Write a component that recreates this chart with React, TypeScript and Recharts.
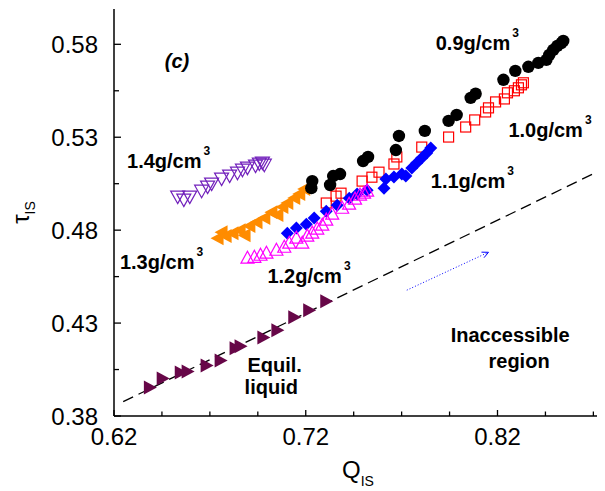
import { ReferenceDot, ReferenceLine, Scatter, ScatterChart, XAxis, YAxis } from "recharts";

type Pt = [number, number];

// tau_IS vs Q_IS, one array per density
const RHO_09: Pt[] = [
  [0.7229, 0.5026], [0.7234, 0.5064], [0.7327, 0.5043], [0.7343, 0.5091], [0.7379, 0.5102],
  [0.7499, 0.5172], [0.7525, 0.5194], [0.767, 0.5231], [0.7686, 0.5307], [0.7821, 0.5334],
  [0.7945, 0.5388], [0.7987, 0.542], [0.806, 0.5512], [0.8086, 0.5534], [0.8231, 0.5609],
  [0.8293, 0.5657], [0.8361, 0.5679], [0.8413, 0.57], [0.8455, 0.5716], [0.847, 0.5743],
  [0.8491, 0.577], [0.8512, 0.5791], [0.8533, 0.5807], [0.8543, 0.5818],
];
const RHO_10: Pt[] = [
  [0.7307, 0.4946], [0.7358, 0.4983], [0.7384, 0.4999], [0.7494, 0.5064], [0.7545, 0.5085],
  [0.7582, 0.5112], [0.766, 0.5156], [0.7675, 0.5194], [0.7805, 0.5247], [0.7945, 0.5301],
  [0.8034, 0.5355], [0.8081, 0.5393], [0.8138, 0.5436], [0.8153, 0.5458], [0.819, 0.549],
  [0.8236, 0.5506], [0.8252, 0.5539], [0.8288, 0.555], [0.8309, 0.5566], [0.8325, 0.5582],
  [0.8335, 0.5593],
];
const RHO_11: Pt[] = [
  [0.7104, 0.4784], [0.7151, 0.4811], [0.7203, 0.4832], [0.7244, 0.4865], [0.7307, 0.4902],
  [0.7364, 0.4934], [0.7427, 0.4972], [0.7468, 0.4994], [0.752, 0.5015], [0.7608, 0.5026],
  [0.7618, 0.5075], [0.766, 0.5086], [0.7701, 0.5102], [0.7722, 0.5091], [0.7753, 0.5134],
  [0.7779, 0.5161], [0.7805, 0.5188], [0.7831, 0.5215], [0.7852, 0.5242],
];
const RHO_12: Pt[] = [
  [0.6896, 0.4649], [0.6932, 0.4654], [0.6964, 0.4665], [0.6995, 0.4676], [0.7047, 0.4692],
  [0.7088, 0.4708], [0.7114, 0.473], [0.7151, 0.4757], [0.7182, 0.473], [0.7208, 0.4768],
  [0.7234, 0.4784], [0.726, 0.4806], [0.7286, 0.4827], [0.7307, 0.4854], [0.7338, 0.4886],
  [0.739, 0.4918], [0.7426, 0.494], [0.7457, 0.4967], [0.7483, 0.4989], [0.7504, 0.4999],
  [0.752, 0.501],
];
const RHO_13: Pt[] = [
  [0.674, 0.4757], [0.6761, 0.4789], [0.6782, 0.4768], [0.6818, 0.4784], [0.6855, 0.48],
  [0.6881, 0.4773], [0.6906, 0.4822], [0.6943, 0.4843], [0.6984, 0.4865], [0.7021, 0.4897],
  [0.7052, 0.4881], [0.7078, 0.4924], [0.7104, 0.4946], [0.714, 0.4973], [0.7166, 0.4994],
  [0.7192, 0.5021],
];
const RHO_14: Pt[] = [
  [0.6532, 0.4983], [0.6564, 0.4967], [0.6595, 0.4983], [0.6657, 0.5015], [0.6688, 0.5037],
  [0.6709, 0.5053], [0.6761, 0.508], [0.6803, 0.5096], [0.6844, 0.5112], [0.687, 0.5128],
  [0.6896, 0.5139], [0.6938, 0.515], [0.6958, 0.5161], [0.6974, 0.5166], [0.6984, 0.5155],
];
const EQUIL: Pt[] = [
  [0.6387, 0.3954], [0.6454, 0.4002], [0.6548, 0.4034], [0.6584, 0.404], [0.6683, 0.4072],
  [0.6756, 0.4099], [0.6834, 0.4164], [0.686, 0.4175], [0.6979, 0.4223], [0.7052, 0.4261],
  [0.714, 0.4331], [0.7218, 0.4369], [0.7307, 0.4418],
];

const BOUNDARY: Pt[] = [[0.6248, 0.3877], [0.8745, 0.5126]];
const ARROW: Pt[] = [[0.7727, 0.4477], [0.8153, 0.4681]];

const X_DOMAIN: [number, number] = [0.62, 0.8745];
const Y_DOMAIN: [number, number] = [0.38, 0.599];
const X_TICKS = [0.62, 0.645, 0.67, 0.695, 0.72, 0.745, 0.77, 0.795, 0.82, 0.845, 0.87];
const X_LABELS = [0.62, 0.72, 0.82];
const Y_TICKS = [0.38, 0.405, 0.43, 0.455, 0.48, 0.505, 0.53, 0.555, 0.58];
const Y_LABELS = [0.38, 0.43, 0.48, 0.53, 0.58];

interface Note { text: string; sup?: string; x: number; y: number; italic?: boolean }
const NOTES: Note[] = [
  { text: "(c)", x: 0.6465, y: 0.5673, italic: true },
  { text: "0.9g/cm", sup: "3", x: 0.7878, y: 0.577 },
  { text: "1.0g/cm", sup: "3", x: 0.8257, y: 0.5301 },
  { text: "1.1g/cm", sup: "3", x: 0.7852, y: 0.5026 },
  { text: "1.2g/cm", sup: "3", x: 0.7, y: 0.4514 },
  { text: "1.3g/cm", sup: "3", x: 0.6231, y: 0.459 },
  { text: "1.4g/cm", sup: "3", x: 0.6268, y: 0.5134 },
  { text: "Equil.", x: 0.6896, y: 0.4035 },
  { text: "liquid", x: 0.6881, y: 0.3916 },
  { text: "Inaccessible", x: 0.7956, y: 0.4196 },
  { text: "region", x: 0.8153, y: 0.4056 },
];

const FONT = "'Liberation Sans', Arial, Helvetica, sans-serif";
const toXY = (pts: Pt[]) => pts.map(([x, y]) => ({ x, y }));
const isIn = (list: number[], v: number) => list.some((t) => Math.abs(t - v) < 1e-6);

// ---- markers ----
const circleShape = (p: any) => <circle cx={p.cx} cy={p.cy} r={6.2} fill="#000" />;
const squareShape = (p: any) => (
  <rect x={p.cx - 5} y={p.cy - 5} width={10} height={10} fill="none" stroke="#ff0000" strokeWidth={1.2} />
);
const diamondShape = (p: any) => (
  <polygon points={`${p.cx},${p.cy - 6.5} ${p.cx + 6.5},${p.cy} ${p.cx},${p.cy + 6.5} ${p.cx - 6.5},${p.cy}`} fill="#0000ff" />
);
const triUpShape = (p: any) => (
  <polygon points={`${p.cx},${p.cy - 7} ${p.cx + 6.5},${p.cy + 5} ${p.cx - 6.5},${p.cy + 5}`} fill="none" stroke="#ff00ff" strokeWidth={1.2} />
);
const triLeftShape = (p: any) => (
  <polygon points={`${p.cx - 7},${p.cy} ${p.cx + 6},${p.cy - 7} ${p.cx + 6},${p.cy + 7}`} fill="#ff8c00" />
);
const triDownShape = (p: any) => (
  <polygon points={`${p.cx},${p.cy + 7.5} ${p.cx + 7},${p.cy - 5} ${p.cx - 7},${p.cy - 5}`} fill="none" stroke="#7221bc" strokeWidth={1.2} />
);
const triRightShape = (p: any) => (
  <polygon points={`${p.cx + 7},${p.cy} ${p.cx - 6},${p.cy - 7} ${p.cx - 6},${p.cy + 7}`} fill="#670748" />
);

// ---- ticks (inward, on all four sides) ----
function BottomTick({ x, y, payload }: any) {
  const major = isIn(X_LABELS, payload.value);
  return (
    <g>
      <line x1={x} y1={y} x2={x} y2={y - (major ? 6 : 4.5)} stroke="#000" strokeWidth={1.3} />
      {major && (
        <text x={x} y={y + 29} textAnchor="middle" fontSize={24} fontFamily={FONT} fill="#000">
          {payload.value.toFixed(2)}
        </text>
      )}
    </g>
  );
}
function TopTick({ x, y, payload }: any) {
  const major = isIn(X_LABELS, payload.value);
  return <line x1={x} y1={y} x2={x} y2={y + (major ? 6 : 4.5)} stroke="#000" strokeWidth={1.3} />;
}
function LeftTick({ x, y, payload }: any) {
  const major = isIn(Y_LABELS, payload.value);
  return (
    <g>
      <line x1={x} y1={y} x2={x + (major ? 7 : 5)} y2={y} stroke="#000" strokeWidth={1.3} />
      {major && (
        <text x={x - 16} y={y + 8.5} textAnchor="end" fontSize={24} fontFamily={FONT} fill="#000">
          {payload.value.toFixed(2)}
        </text>
      )}
    </g>
  );
}
function RightTick({ x, y, payload }: any) {
  const major = isIn(Y_LABELS, payload.value);
  return <line x1={x} y1={y} x2={x - (major ? 7 : 5)} y2={y} stroke="#000" strokeWidth={1.3} />;
}

function XTitle({ viewBox }: any) {
  const cx = viewBox.x + viewBox.width / 2;
  return (
    <text x={cx} y={viewBox.y + 62} textAnchor="middle" fontFamily={FONT} fill="#000">
      <tspan fontSize={24}>Q</tspan>
      <tspan fontSize={14} dy={8}>IS</tspan>
    </text>
  );
}
function YTitle({ viewBox }: any) {
  const cy = viewBox.y + viewBox.height / 2;
  const x = 21;
  return (
    <text x={x} y={cy} transform={`rotate(-90 ${x} ${cy})`} textAnchor="middle" fontFamily={FONT} fill="#000">
      <tspan fontSize={24}>τ</tspan>
      <tspan fontSize={14} dy={6}>IS</tspan>
    </text>
  );
}

const noteShape = (n: Note) => (p: any) => (
  <text x={p.cx} y={p.cy} fontFamily={FONT} fontWeight="bold" fontSize={20} fontStyle={n.italic ? "italic" : "normal"} fill="#000">
    {n.text}
    {n.sup && (
      <tspan dx={2} dy={-13} fontSize={12}>
        {n.sup}
      </tspan>
    )}
  </text>
);

const arrowShape = (p: any) => {
  const { x1, y1, x2, y2 } = p;
  const a = Math.atan2(y2 - y1, x2 - x1);
  const len = 7;
  const ax = x2 - len * Math.cos(a - 0.45);
  const ay = y2 - len * Math.sin(a - 0.45);
  const bx = x2 - len * Math.cos(a + 0.45);
  const by = y2 - len * Math.sin(a + 0.45);
  return (
    <g>
      <line x1={x1} y1={y1} x2={x2} y2={y2} stroke="#0000ff" strokeWidth={1} strokeDasharray="1 2" />
      <polyline points={`${ax},${ay} ${x2},${y2} ${bx},${by}`} fill="none" stroke="#0000ff" strokeWidth={1} />
    </g>
  );
};

export default function App() {
  return (
    <div style={{ width: 597, height: 483, background: "#fff" }}>
      <ScatterChart width={597} height={483} margin={{ top: 1, right: 3, bottom: 0, left: 0 }}>
        <XAxis
          type="number" dataKey="x" domain={X_DOMAIN} allowDataOverflow
          ticks={X_TICKS} interval={0} tick={<BottomTick />}
          tickSize={0} tickMargin={0} tickLine={false} height={75}
          axisLine={{ stroke: "#000", strokeWidth: 1.5 }}
          label={{ content: (p: any) => <XTitle {...p} /> }}
        />
        <XAxis
          xAxisId="top" orientation="top" type="number" domain={X_DOMAIN} allowDataOverflow
          ticks={X_TICKS} interval={0} tick={<TopTick />}
          tickSize={0} tickMargin={0} tickLine={false} height={0}
          axisLine={{ stroke: "#000", strokeWidth: 1.5 }}
        />
        <YAxis
          type="number" dataKey="y" domain={Y_DOMAIN} allowDataOverflow
          ticks={Y_TICKS} interval={0} tick={<LeftTick />}
          tickSize={0} tickMargin={0} tickLine={false} width={106}
          axisLine={{ stroke: "#000", strokeWidth: 1.5 }}
          label={{ content: (p: any) => <YTitle {...p} /> }}
        />
        <YAxis
          yAxisId="right" orientation="right" type="number" domain={Y_DOMAIN} allowDataOverflow
          ticks={Y_TICKS} interval={0} tick={<RightTick />}
          tickSize={0} tickMargin={0} tickLine={false} width={0}
          axisLine={{ stroke: "#000", strokeWidth: 1.5 }}
        />

        <ReferenceLine
          segment={[{ x: BOUNDARY[0][0], y: BOUNDARY[0][1] }, { x: BOUNDARY[1][0], y: BOUNDARY[1][1] }]}
          stroke="#000" strokeWidth={1.3} strokeDasharray="11 6" ifOverflow="visible"
        />
        <ReferenceLine
          segment={[{ x: ARROW[0][0], y: ARROW[0][1] }, { x: ARROW[1][0], y: ARROW[1][1] }]}
          ifOverflow="visible" shape={arrowShape}
        />

        <Scatter data={toXY(EQUIL)} shape={triRightShape} isAnimationActive={false} />
        <Scatter data={toXY(RHO_14)} shape={triDownShape} isAnimationActive={false} />
        <Scatter data={toXY(RHO_13)} shape={triLeftShape} isAnimationActive={false} />
        <Scatter data={toXY(RHO_10)} shape={squareShape} isAnimationActive={false} />
        <Scatter data={toXY(RHO_11)} shape={diamondShape} isAnimationActive={false} />
        <Scatter data={toXY(RHO_12)} shape={triUpShape} isAnimationActive={false} />
        <Scatter data={toXY(RHO_09)} shape={circleShape} isAnimationActive={false} />

        {NOTES.map((n) => (
          <ReferenceDot key={n.text} x={n.x} y={n.y} r={0} ifOverflow="visible" shape={noteShape(n)} />
        ))}
      </ScatterChart>
    </div>
  );
}
